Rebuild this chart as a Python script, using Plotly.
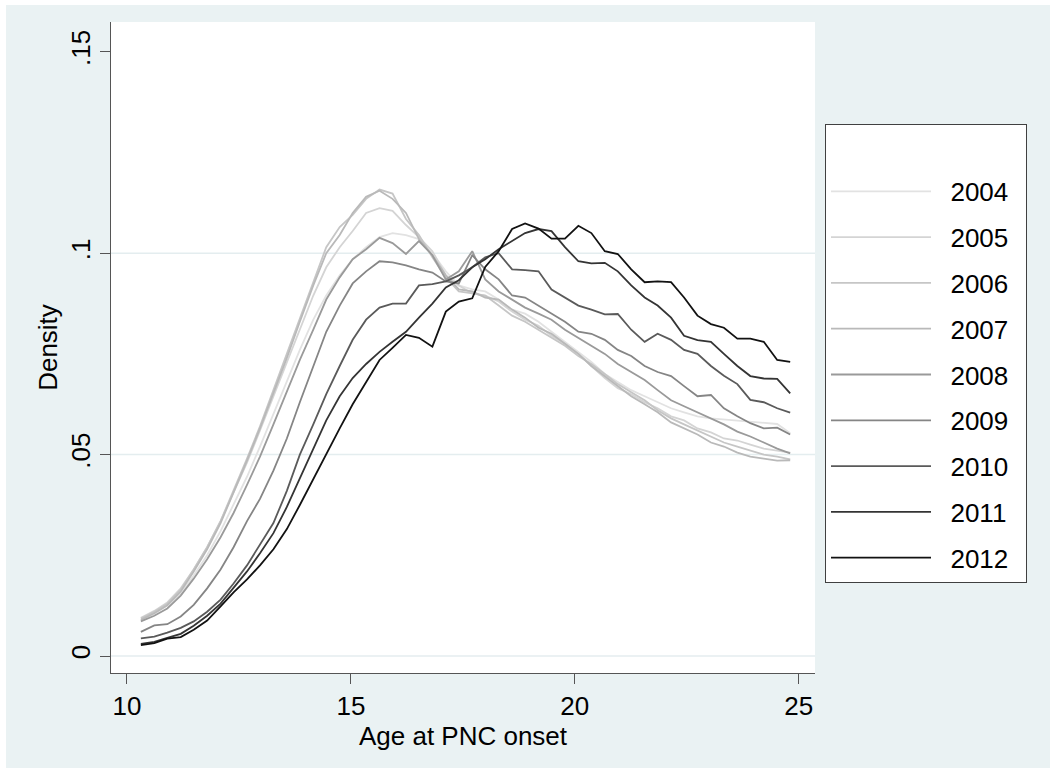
import plotly.graph_objects as go

# evaluation grid (age at PNC onset)
age = [10.31, 10.61, 10.90, 11.20, 11.49, 11.79, 12.09, 12.38, 12.68, 12.97,
       13.27, 13.57, 13.86, 14.16, 14.45, 14.75, 15.04, 15.34, 15.64, 15.93,
       16.23, 16.52, 16.82, 17.12, 17.41, 17.71, 18.00, 18.30, 18.60, 18.89,
       19.19, 19.48, 19.78, 20.08, 20.37, 20.67, 20.96, 21.26, 21.56, 21.85,
       22.15, 22.44, 22.74, 23.04, 23.33, 23.63, 23.92, 24.22, 24.52, 24.81]

# density values (x 1000)
d2004 = [8.8, 10.5, 12.5, 15.5, 20.0, 25.0, 31.0, 37.5, 44.5, 52.0, 60.0, 68.0, 76.0, 83.5, 89.5,
         94.5, 98.5, 101.5, 104.0, 105.0, 104.5, 103.5, 100.0, 95.5, 92.0, 91.0, 90.5, 88.5, 86.0,
         85.0, 83.0, 80.5, 78.0, 75.5, 73.0, 70.0, 68.0, 66.0, 64.5, 63.0, 61.5, 60.5, 59.5, 59.0,
         58.7, 58.5, 58.2, 57.8, 57.6, 55.3]
d2005 = [9.5, 11.2, 13.3, 16.8, 21.5, 27.0, 33.5, 40.5, 48.0, 56.0, 64.5, 73.0, 81.5, 89.5, 96.5,
         101.5, 105.5, 110.0, 111.2, 110.5, 107.0, 104.0, 100.5, 94.5, 92.0, 90.0, 89.5, 88.0, 85.5,
         83.5, 82.0, 79.5, 77.5, 75.0, 72.0, 69.0, 66.5, 65.0, 63.0, 61.5, 59.5, 58.5, 56.5, 55.5,
         54.0, 53.5, 52.5, 51.5, 51.0, 50.5]
d2006 = [9.3, 11.0, 13.0, 16.5, 21.5, 27.0, 33.5, 41.0, 49.0, 57.0, 66.0, 75.0, 84.0, 93.0, 101.5,
         106.5, 109.5, 113.5, 115.8, 114.8, 108.5, 104.5, 99.0, 94.0, 90.5, 90.0, 89.5, 87.0, 84.5,
         83.0, 81.0, 79.0, 77.0, 74.5, 72.5, 70.0, 67.5, 65.5, 63.5, 61.0, 59.0, 57.5, 56.0, 54.5,
         53.0, 52.0, 51.0, 50.0, 49.5, 48.8]
d2007 = [9.0, 10.6, 12.6, 16.0, 21.0, 26.5, 33.0, 40.5, 48.5, 56.5, 65.0, 74.0, 83.0, 92.0, 100.0,
         104.5, 110.0, 114.0, 115.5, 113.5, 110.0, 103.5, 99.5, 94.5, 91.0, 90.5, 89.0, 88.5, 86.0,
         84.0, 81.5, 80.0, 77.5, 75.0, 72.0, 69.5, 67.0, 64.5, 62.5, 60.5, 58.0, 56.5, 55.0, 53.0,
         52.0, 50.5, 49.5, 49.0, 48.5, 48.6]
d2008 = [8.6, 10.0, 11.8, 15.0, 19.2, 24.0, 29.5, 35.5, 42.5, 49.5, 57.5, 65.5, 73.5, 81.0, 88.5,
         94.0, 98.5, 101.0, 103.8, 102.5, 99.8, 103.0, 99.5, 93.5, 95.5, 100.5, 93.5, 90.5, 88.5,
         86.5, 85.0, 83.5, 81.0, 79.0, 77.0, 75.0, 72.5, 70.5, 68.5, 66.0, 63.5, 62.0, 60.5, 59.0,
         57.5, 55.7, 54.5, 53.0, 51.5, 50.3]
d2009 = [6.0, 7.6, 7.9, 9.8, 12.7, 16.8, 21.5, 27.0, 33.5, 39.0, 46.0, 54.0, 63.0, 72.0, 80.5,
         87.0, 92.5, 95.5, 98.0, 97.7, 97.0, 96.0, 95.2, 93.0, 92.5, 99.5, 96.0, 93.5, 89.5,
         89.0, 87.0, 85.0, 83.0, 80.5, 80.0, 78.5, 76.0, 74.5, 72.0, 70.5, 69.5, 67.0, 64.5, 64.8,
         61.5, 59.5, 57.8, 56.5, 56.7, 55.0]
d2010 = [4.4, 4.8, 5.8, 7.0, 8.6, 11.0, 14.0, 18.0, 22.5, 27.5, 33.0, 41.0, 50.0, 57.5, 65.0,
         72.0, 78.5, 83.5, 86.5, 87.5, 87.5, 92.0, 92.3, 93.0, 94.5, 96.5, 99.0, 100.0, 96.0,
         95.8, 95.5, 91.0, 89.0, 87.0, 86.0, 84.8, 84.9, 81.0, 78.0, 80.0, 78.5, 76.0, 75.0, 72.0,
         69.6, 67.5, 63.6, 63.0, 61.5, 60.4]
d2011 = [3.0, 3.5, 4.5, 5.5, 7.5, 10.0, 13.0, 17.0, 21.0, 25.5, 30.5, 37.0, 44.0, 51.5, 58.5,
         64.5, 69.0, 72.5, 75.5, 78.0, 80.5, 84.0, 87.5, 91.5, 93.3, 96.5, 98.5, 101.0, 103.0,
         105.0, 106.0, 105.5, 101.5, 98.0, 97.5, 97.6, 95.5, 92.0, 89.0, 87.0, 84.0, 79.5, 78.4, 78.0,
         75.0, 72.0, 69.5, 68.9, 68.8, 65.2]
d2012 = [2.7, 3.2, 4.3, 4.7, 6.5, 8.8, 12.3, 15.8, 19.0, 22.5, 26.5, 31.5, 37.5, 44.0, 50.0,
         56.5, 62.5, 68.0, 73.5, 76.5, 79.7, 79.0, 76.8, 85.5, 88.0, 88.8, 96.6, 100.5, 106.0,
         107.4, 106.1, 103.6, 103.6, 106.8, 105.0, 100.5, 99.8, 96.0, 92.8, 93.0, 92.8, 89.0, 84.5, 82.4,
         81.5, 78.8, 78.8, 78.0, 73.5, 73.0]

years = ["2004", "2005", "2006", "2007", "2008", "2009", "2010", "2011", "2012"]
series = [d2004, d2005, d2006, d2007, d2008, d2009, d2010, d2011, d2012]
colors = ["#e2e2e2", "#d4d4d4", "#c6c6c6", "#b9b9b9", "#9a9a9a", "#858585", "#5a5a5a", "#343434", "#121212"]

y_ticks = [0, 0.05, 0.1, 0.15]
y_ticklabels = ["0", ".05", ".1", ".15"]
y_grid = [0, 0.05, 0.1]
x_ticks = [10, 15, 20, 25]

FONT = "Arial, Liberation Sans, sans-serif"
NB = "\u00a0"

fig = go.Figure()
for yr, vals, col in zip(years, series, colors):
    fig.add_trace(go.Scatter(
        x=age, y=[v / 1000 for v in vals], mode="lines",
        name=NB + NB + yr + NB + "\u2009",
        legendgroup=yr,
        line=dict(color=col, width=1.8),
    ))

W, H = 1055, 773
L, R, T, B = 111, 815, 22, 673
pw, ph = R - L, B - T

def px_x(p):
    return (p - L) / pw

def px_y(p):
    return (B - p) / ph

shapes = [
    dict(type="rect", xref="paper", yref="paper", layer="below",
         x0=px_x(6), x1=px_x(1050), y0=px_y(768), y1=px_y(5),
         fillcolor="#EAF2F3", line=dict(width=0)),
    dict(type="rect", xref="paper", yref="paper", layer="below",
         x0=0, x1=1, y0=0, y1=1,
         fillcolor="white", line=dict(width=0)),
]
for g in y_grid:
    shapes.append(dict(type="line", xref="paper", yref="y", layer="below",
                       x0=0, x1=1, y0=g, y1=g,
                       line=dict(color="#E4EDEF", width=1.5)))

fig.update_layout(
    width=W, height=H,
    margin=dict(l=L, r=W - R, t=T, b=H - B, pad=0),
    paper_bgcolor="white",
    plot_bgcolor="white",
    font=dict(family=FONT, size=26, color="black"),
    showlegend=True,
    legend=dict(
        x=px_x(825), y=px_y(124), xanchor="left", yanchor="top",
        bgcolor="white", bordercolor="#404040", borderwidth=1,
        font=dict(size=26, family=FONT, color="black"),
        itemwidth=100, tracegroupgap=9,
        title=dict(text=NB, font=dict(size=33)),
    ),
    shapes=shapes,
    xaxis=dict(
        range=[9.643, 25.364], tickvals=x_ticks, ticktext=[str(t) for t in x_ticks],
        showgrid=False, zeroline=False,
        showline=True, linecolor="#555555", linewidth=1,
        ticks="outside", ticklen=10, tickcolor="#555555", tickwidth=1,
        tickfont=dict(size=26, family=FONT, color="black"),
        title=dict(text="Age at PNC onset", font=dict(size=26, family=FONT, color="black"), standoff=0),
    ),
    yaxis=dict(
        range=[-0.00422, 0.1574], tickvals=y_ticks, ticktext=y_ticklabels,
        showgrid=False, zeroline=False,
        showline=True, linecolor="#555555", linewidth=1,
        ticks="outside", ticklen=10, tickcolor="#555555", tickwidth=1,
        tickangle=-90,
        tickfont=dict(size=26, family=FONT, color="black"),
        title=dict(text="Density", font=dict(size=26, family=FONT, color="black"), standoff=0),
    ),
)

fig.write_html("out.html")
